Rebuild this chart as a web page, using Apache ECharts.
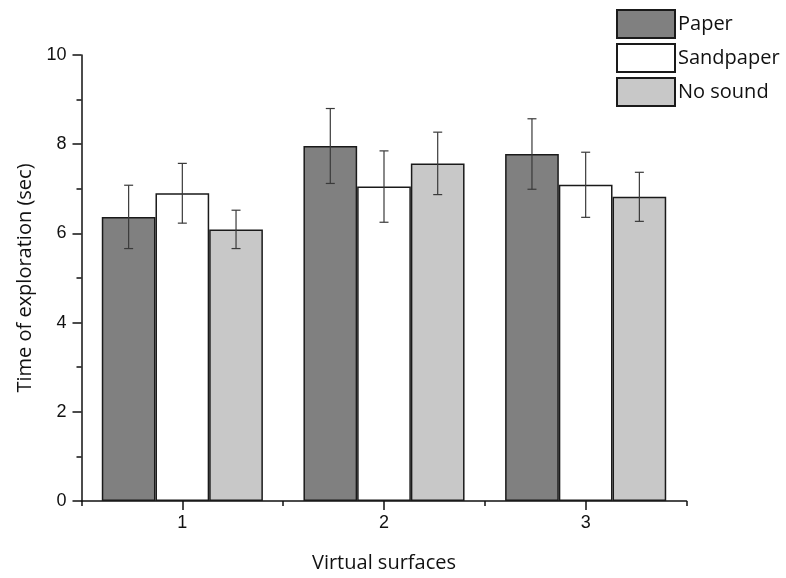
<!DOCTYPE html>
<html>
<head>
<meta charset="utf-8">
<script src="https://cdn.jsdelivr.net/npm/echarts@6/dist/echarts.min.js"></script>
<style>
  html, body { margin: 0; padding: 0; background: #fff; }
  #chart { width: 786px; height: 578px; }
</style>
</head>
<body>
<div id="chart"></div>
<script>
// Exploration time per virtual surface and sound condition (mean ± error)
const categories = ['1', '2', '3'];
const seriesNames = ['Paper', 'Sandpaper', 'No sound'];
const paperMean = [6.37, 7.96, 7.78];
const paperErr = [0.71, 0.84, 0.79];
const sandpaperMean = [6.90, 7.05, 7.09];
const sandpaperErr = [0.67, 0.80, 0.73];
const noSoundMean = [6.09, 7.57, 6.82];
const noSoundErr = [0.43, 0.70, 0.55];
const yTicks = [0, 2, 4, 6, 8, 10];

const means = [paperMean, sandpaperMean, noSoundMean];
const errs = [paperErr, sandpaperErr, noSoundErr];
const fills = ['#808080', '#ffffff', '#c8c8c8'];

const BAR_W = 53.7;
const fontAxis = 'Liberation Sans';
const fontTitle = 'Open Sans';

const chart = echarts.init(document.getElementById('chart'));

const barSeries = seriesNames.map((name, i) => ({
  name: name,
  type: 'bar',
  barWidth: BAR_W,
  barGap: '0%',
  data: means[i],
  itemStyle: { color: fills[i], borderColor: '#1a1a1a', borderWidth: 1.5 },
  emphasis: { disabled: true },
  z: 2
}));

const errSeries = seriesNames.map((name, i) => ({
  type: 'custom',
  silent: true,
  z: 5,
  data: means[i].map((m, k) => [k, m - errs[i][k], m + errs[i][k]]),
  encode: { x: 0, y: [1, 2] },
  renderItem: function (params, api) {
    const k = api.value(0);
    const lo = api.coord([k, api.value(1)]);
    const hi = api.coord([k, api.value(2)]);
    const x = lo[0] + (i - 1) * BAR_W;
    const cap = 4.5;
    const style = { stroke: '#3a3a3a', lineWidth: 1.2, fill: null };
    return {
      type: 'group',
      children: [
        { type: 'line', shape: { x1: x, y1: hi[1], x2: x, y2: lo[1] }, style: style },
        { type: 'line', shape: { x1: x - cap, y1: hi[1], x2: x + cap, y2: hi[1] }, style: style },
        { type: 'line', shape: { x1: x - cap, y1: lo[1], x2: x + cap, y2: lo[1] }, style: style }
      ]
    };
  }
}));

chart.setOption({
  animation: false,
  backgroundColor: '#ffffff',
  grid: { left: 81.5, right: 99.5, top: 55, bottom: 76.5, containLabel: false },
  legend: {
    data: seriesNames,
    orient: 'vertical',
    left: 611,
    top: 4,
    itemWidth: 58,
    itemHeight: 28,
    itemGap: 4,
    icon: 'rect',
    textStyle: { fontFamily: fontTitle, fontSize: 20, color: '#111', padding: [0, 0, 0, -2] }
  },
  xAxis: [
    {
      type: 'category',
      data: categories,
      boundaryGap: true,
      name: 'Virtual surfaces',
      nameLocation: 'middle',
      nameGap: 52,
      nameTextStyle: { fontFamily: fontTitle, fontSize: 20, color: '#111' },
      axisLine: { lineStyle: { color: '#111', width: 1.5 } },
      axisTick: { show: true, alignWithLabel: false, length: 5, lineStyle: { color: '#111', width: 1.5 } },
      axisLabel: { show: false },
      splitLine: { show: false }
    },
    {
      type: 'category',
      data: categories,
      position: 'bottom',
      boundaryGap: true,
      axisLine: { show: false },
      axisTick: { show: true, alignWithLabel: true, length: 9, lineStyle: { color: '#111', width: 1.5 } },
      axisLabel: { show: true, margin: 13, fontFamily: fontAxis, fontSize: 18, color: '#111' },
      splitLine: { show: false }
    }
  ],
  yAxis: {
    type: 'value',
    min: yTicks[0],
    max: yTicks[yTicks.length - 1],
    interval: 2,
    name: 'Time of exploration (sec)',
    nameLocation: 'middle',
    nameGap: 45,
    nameTextStyle: { fontFamily: fontTitle, fontSize: 20, color: '#111' },
    axisLine: { show: true, lineStyle: { color: '#111', width: 1.5 } },
    axisTick: { show: true, length: 9, lineStyle: { color: '#111', width: 1.5 } },
    minorTick: { show: true, splitNumber: 2, length: 5, lineStyle: { color: '#111', width: 1.5 } },
    axisLabel: { margin: 15, fontFamily: fontAxis, fontSize: 18, color: '#111' },
    splitLine: { show: false }
  },
  series: barSeries.concat(errSeries)
});
</script>
</body>
</html>
